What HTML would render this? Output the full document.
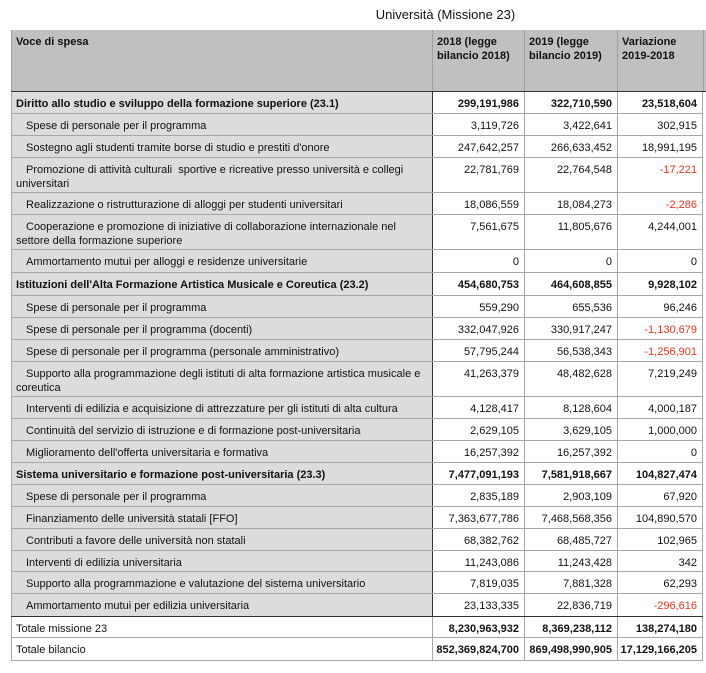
<!DOCTYPE html>
<html>
<head>
<meta charset="utf-8">
<style>
  html,body{margin:0;padding:0;background:#fff;}
  body{width:706px;height:673px;position:relative;overflow:hidden;font-family:"Liberation Sans",Arial,sans-serif;font-size:11px;color:#111;}
  .title{position:absolute;top:7px;left:0;width:891px;text-align:center;font-size:13px;line-height:16px;color:#111;}
  .r{position:absolute;left:11px;width:692px;box-sizing:border-box;border-bottom:1px solid #a6a6a6;}
  .c{position:absolute;top:0;bottom:0;box-sizing:border-box;padding-top:5px;line-height:14px;white-space:nowrap;}
  .l{left:0;width:421px;padding-left:4px;background:#dcdcdc;border-left:1px solid #a6a6a6;}
  .l.ind{text-indent:10px;}
  .n1{left:421px;width:92px;text-align:right;padding-right:5px;border-left:1px solid #333;}
  .n2{left:513px;width:93px;text-align:right;padding-right:5px;border-left:1px solid #a6a6a6;}
  .n3{left:606px;width:86px;text-align:right;padding-right:5px;border-left:1px solid #a6a6a6;border-right:1px solid #a6a6a6;}
  .b{font-weight:bold;}
  .red{color:#f2321e;}
  .hdr{background:#c0c0c0;border-bottom:1px solid #333;}
  .hdr .c{background:#c0c0c0;font-weight:bold;white-space:normal;text-align:left;padding-left:4px;border-left:1px solid #a0a0a0;}
  .tot .l{background:#fff;}
  .tot .n1{border-left:1px solid #a6a6a6;}
  .dark{border-bottom:1px solid #333;}
</style>
</head>
<body>
<div class="title">Università (Missione 23)</div>

<div class="r hdr" style="top:30px;height:62px;width:695px;">
  <div class="c" style="left:0;width:421px;">Voce di spesa</div>
  <div class="c" style="left:421px;width:92px;">2018 (legge<br>bilancio 2018)</div>
  <div class="c" style="left:513px;width:93px;">2019 (legge<br>bilancio 2019)</div>
  <div class="c" style="left:606px;width:86px;">Variazione<br>2019-2018</div>
  <div class="c" style="left:692px;width:3px;padding:0;"></div>
</div>

<div class="r" style="top:92px;height:22px;"><div class="c l b">Diritto allo studio e sviluppo della formazione superiore (23.1)</div><div class="c n1 b">299,191,986</div><div class="c n2 b">322,710,590</div><div class="c n3 b">23,518,604</div></div>
<div class="r" style="top:114px;height:22px;"><div class="c l ind">Spese di personale per il programma</div><div class="c n1">3,119,726</div><div class="c n2">3,422,641</div><div class="c n3">302,915</div></div>
<div class="r" style="top:136px;height:22px;"><div class="c l ind">Sostegno agli studenti tramite borse di studio e prestiti d'onore</div><div class="c n1">247,642,257</div><div class="c n2">266,633,452</div><div class="c n3">18,991,195</div></div>
<div class="r" style="top:158px;height:35px;"><div class="c l ind">Promozione di attività culturali&nbsp; sportive e ricreative presso università e collegi<br>universitari</div><div class="c n1">22,781,769</div><div class="c n2">22,764,548</div><div class="c n3 red">-17,221</div></div>
<div class="r" style="top:193px;height:22px;"><div class="c l ind">Realizzazione o ristrutturazione di alloggi per studenti universitari</div><div class="c n1">18,086,559</div><div class="c n2">18,084,273</div><div class="c n3 red">-2,286</div></div>
<div class="r" style="top:215px;height:35px;"><div class="c l ind">Cooperazione e promozione di iniziative di collaborazione internazionale nel<br>settore della formazione superiore</div><div class="c n1">7,561,675</div><div class="c n2">11,805,676</div><div class="c n3">4,244,001</div></div>
<div class="r" style="top:250px;height:23px;"><div class="c l ind">Ammortamento mutui per alloggi e residenze universitarie</div><div class="c n1">0</div><div class="c n2">0</div><div class="c n3">0</div></div>

<div class="r" style="top:273px;height:23px;"><div class="c l b">Istituzioni dell'Alta Formazione Artistica Musicale e Coreutica (23.2)</div><div class="c n1 b">454,680,753</div><div class="c n2 b">464,608,855</div><div class="c n3 b">9,928,102</div></div>
<div class="r" style="top:296px;height:22px;"><div class="c l ind">Spese di personale per il programma</div><div class="c n1">559,290</div><div class="c n2">655,536</div><div class="c n3">96,246</div></div>
<div class="r" style="top:318px;height:22px;"><div class="c l ind">Spese di personale per il programma (docenti)</div><div class="c n1">332,047,926</div><div class="c n2">330,917,247</div><div class="c n3 red">-1,130,679</div></div>
<div class="r" style="top:340px;height:22px;"><div class="c l ind">Spese di personale per il programma (personale amministrativo)</div><div class="c n1">57,795,244</div><div class="c n2">56,538,343</div><div class="c n3 red">-1,256,901</div></div>
<div class="r" style="top:362px;height:35px;"><div class="c l ind">Supporto alla programmazione degli istituti di alta formazione artistica musicale e<br>coreutica</div><div class="c n1">41,263,379</div><div class="c n2">48,482,628</div><div class="c n3">7,219,249</div></div>
<div class="r" style="top:397px;height:22px;"><div class="c l ind">Interventi di edilizia e acquisizione di attrezzature per gli istituti di alta cultura</div><div class="c n1">4,128,417</div><div class="c n2">8,128,604</div><div class="c n3">4,000,187</div></div>
<div class="r" style="top:419px;height:22px;"><div class="c l ind">Continuità del servizio di istruzione e di formazione post-universitaria</div><div class="c n1">2,629,105</div><div class="c n2">3,629,105</div><div class="c n3">1,000,000</div></div>
<div class="r" style="top:441px;height:22px;"><div class="c l ind">Miglioramento dell'offerta universitaria e formativa</div><div class="c n1">16,257,392</div><div class="c n2">16,257,392</div><div class="c n3">0</div></div>

<div class="r" style="top:463px;height:22px;"><div class="c l b">Sistema universitario e formazione post-universitaria (23.3)</div><div class="c n1 b">7,477,091,193</div><div class="c n2 b">7,581,918,667</div><div class="c n3 b">104,827,474</div></div>
<div class="r" style="top:485px;height:22px;"><div class="c l ind">Spese di personale per il programma</div><div class="c n1">2,835,189</div><div class="c n2">2,903,109</div><div class="c n3">67,920</div></div>
<div class="r" style="top:507px;height:22px;"><div class="c l ind">Finanziamento delle università statali [FFO]</div><div class="c n1">7,363,677,786</div><div class="c n2">7,468,568,356</div><div class="c n3">104,890,570</div></div>
<div class="r" style="top:529px;height:22px;"><div class="c l ind">Contributi a favore delle università non statali</div><div class="c n1">68,382,762</div><div class="c n2">68,485,727</div><div class="c n3">102,965</div></div>
<div class="r" style="top:551px;height:21px;"><div class="c l ind">Interventi di edilizia universitaria</div><div class="c n1">11,243,086</div><div class="c n2">11,243,428</div><div class="c n3">342</div></div>
<div class="r" style="top:572px;height:22px;"><div class="c l ind">Supporto alla programmazione e valutazione del sistema universitario</div><div class="c n1">7,819,035</div><div class="c n2">7,881,328</div><div class="c n3">62,293</div></div>
<div class="r dark" style="top:594px;height:23px;"><div class="c l ind">Ammortamento mutui per edilizia universitaria</div><div class="c n1">23,133,335</div><div class="c n2">22,836,719</div><div class="c n3 red">-296,616</div></div>

<div class="r tot" style="top:617px;height:21px;"><div class="c l">Totale missione 23</div><div class="c n1 b">8,230,963,932</div><div class="c n2 b">8,369,238,112</div><div class="c n3 b">138,274,180</div></div>
<div class="r tot" style="top:638px;height:23px;"><div class="c l">Totale bilancio</div><div class="c n1 b">852,369,824,700</div><div class="c n2 b">869,498,990,905</div><div class="c n3 b">17,129,166,205</div></div>
</body>
</html>
